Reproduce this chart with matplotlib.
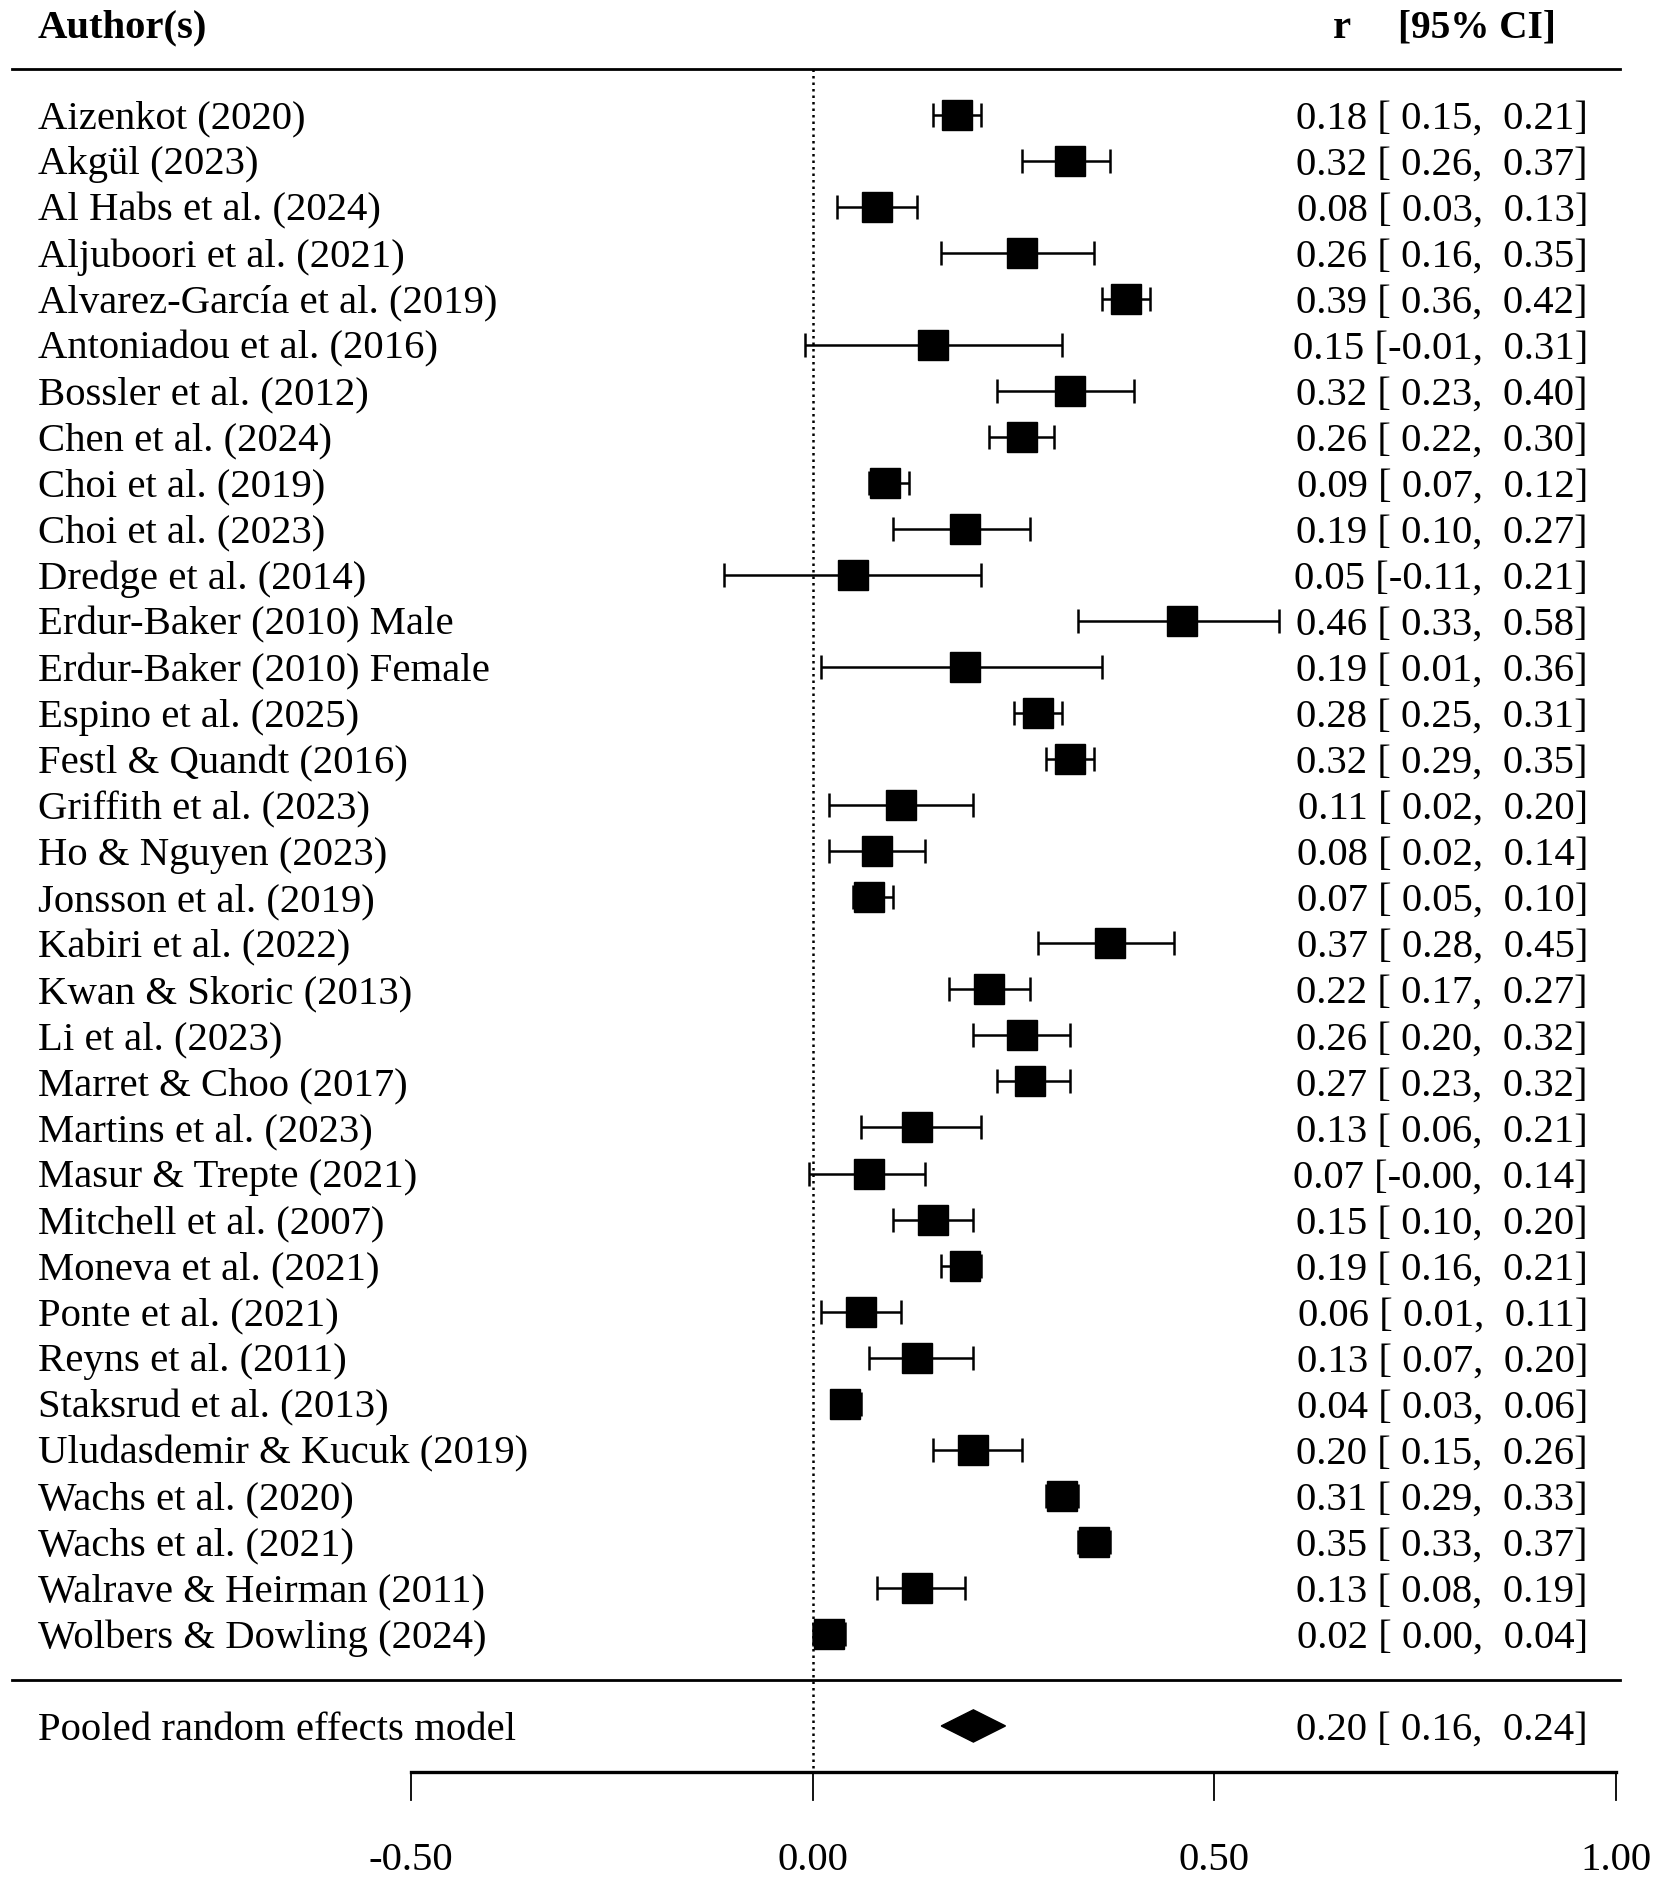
import matplotlib.pyplot as plt
from matplotlib.patches import Polygon
import numpy as np

plt.rcParams['font.family'] = ['Liberation Serif', 'DejaVu Serif']

# Study data (r and 95% CI)
authors = [
    'Aizenkot (2020)', 'Akgül (2023)', 'Al Habs et al. (2024)', 'Aljuboori et al. (2021)',
    'Alvarez-García et al. (2019)', 'Antoniadou et al. (2016)', 'Bossler et al. (2012)',
    'Chen et al. (2024)', 'Choi et al. (2019)', 'Choi et al. (2023)', 'Dredge et al. (2014)',
    'Erdur-Baker (2010) Male', 'Erdur-Baker (2010) Female', 'Espino et al. (2025)',
    'Festl & Quandt (2016)', 'Griffith et al. (2023)', 'Ho & Nguyen (2023)',
    'Jonsson et al. (2019)', 'Kabiri et al. (2022)', 'Kwan & Skoric (2013)', 'Li et al. (2023)',
    'Marret & Choo (2017)', 'Martins et al. (2023)', 'Masur & Trepte (2021)',
    'Mitchell et al. (2007)', 'Moneva et al. (2021)', 'Ponte et al. (2021)',
    'Reyns et al. (2011)', 'Staksrud et al. (2013)', 'Uludasdemir & Kucuk (2019)',
    'Wachs et al. (2020)', 'Wachs et al. (2021)', 'Walrave & Heirman (2011)',
    'Wolbers & Dowling (2024)',
]
r = [0.18, 0.32, 0.08, 0.26, 0.39, 0.15, 0.32, 0.26, 0.09, 0.19, 0.05, 0.46, 0.19, 0.28,
     0.32, 0.11, 0.08, 0.07, 0.37, 0.22, 0.26, 0.27, 0.13, 0.07, 0.15, 0.19, 0.06, 0.13,
     0.04, 0.20, 0.31, 0.35, 0.13, 0.02]
ci_lo = [0.15, 0.26, 0.03, 0.16, 0.36, -0.01, 0.23, 0.22, 0.07, 0.10, -0.11, 0.33, 0.01, 0.25,
         0.29, 0.02, 0.02, 0.05, 0.28, 0.17, 0.20, 0.23, 0.06, -0.004, 0.10, 0.16, 0.01, 0.07,
         0.03, 0.15, 0.29, 0.33, 0.08, 0.00]
ci_hi = [0.21, 0.37, 0.13, 0.35, 0.42, 0.31, 0.40, 0.30, 0.12, 0.27, 0.21, 0.58, 0.36, 0.31,
         0.35, 0.20, 0.14, 0.10, 0.45, 0.27, 0.32, 0.32, 0.21, 0.14, 0.20, 0.21, 0.11, 0.20,
         0.06, 0.26, 0.33, 0.37, 0.19, 0.04]

pooled_label = 'Pooled random effects model'
pooled_r, pooled_lo, pooled_hi = 0.20, 0.16, 0.24

xticks = [-0.5, 0.0, 0.5, 1.0]
xtick_labels = ['-0.50', '0.00', '0.50', '1.00']

fs = 29.3
dy = 0.07  # small nudge so text sits level with the squares
n = len(authors)
rows = np.arange(n)
pooled_row = n + 1


def annot(est, lo, hi):
    return f'{est:.2f} [{lo:5.2f}, {hi:5.2f}]'


fig = plt.figure(figsize=(16.59, 18.83), dpi=100)
ax = fig.add_axes([0, 0, 1, 1])
ax.set_xlim(-1.0117, 1.0535)
ax.set_ylim(38.39, -2.514)
ax.axis('off')

# header
ax.text(-0.9644, -2 + dy + 0.03, 'Author(s)', fontsize=fs, fontweight='bold', ha='left', va='center')
ax.text(0.659, -2 + dy + 0.03, 'r', fontsize=fs, fontweight='bold', ha='center', va='center')
ax.text(0.925, -2 + dy + 0.03, '[95% CI]', fontsize=fs - 1, fontweight='bold', ha='right', va='center')

# horizontal rules
ax.plot([-0.997, 1.005], [-1, -1], color='black', lw=2.0)
ax.plot([-0.997, 1.005], [n, n], color='black', lw=2.0)

# reference line at zero
ax.plot([0, 0], [-1, pooled_row + 1], color='black', lw=1.8, linestyle=(0, (1, 1.6)))

# studies
for i in rows:
    ax.errorbar(r[i], i, xerr=[[r[i] - ci_lo[i]], [ci_hi[i] - r[i]]], fmt='s',
                color='black', ms=21, elinewidth=1.8, capsize=8.5, capthick=1.8)
    ax.text(-0.9644, i + dy, authors[i], fontsize=fs, ha='left', va='center')
    ax.text(0.9651, i + dy, annot(r[i], ci_lo[i], ci_hi[i]),
            fontsize=fs, ha='right', va='center')

# pooled estimate
h = 0.35
ax.add_patch(Polygon([[pooled_lo, pooled_row], [pooled_r, pooled_row - h],
                      [pooled_hi, pooled_row], [pooled_r, pooled_row + h]],
                     closed=True, color='black'))
ax.text(-0.9644, pooled_row + dy, pooled_label, fontsize=fs, ha='left', va='center')
ax.text(0.9651, pooled_row + dy, annot(pooled_r, pooled_lo, pooled_hi),
        fontsize=fs, ha='right', va='center')

# x axis
axis_row = pooled_row + 1
ax.plot([xticks[0], xticks[-1]], [axis_row, axis_row], color='black', lw=2.4)
for t, lab in zip(xticks, xtick_labels):
    ax.plot([t, t], [axis_row, axis_row + 0.6], color='black', lw=1.3)
    ax.text(t, axis_row + 1.9, lab, fontsize=fs, ha='center', va='center')

plt.savefig('out.png', dpi=100)
